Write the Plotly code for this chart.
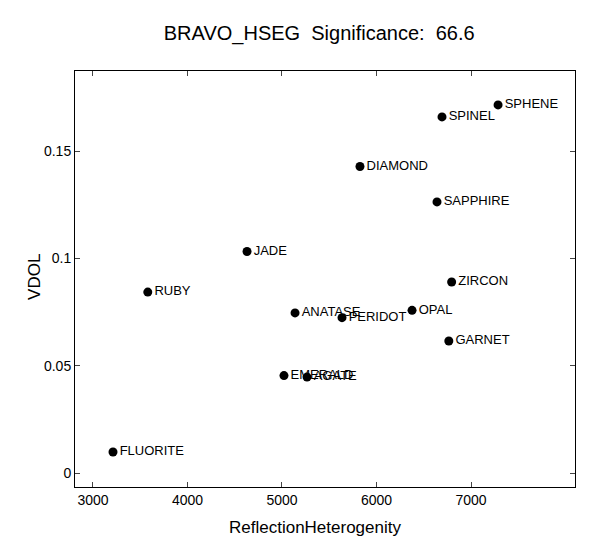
import plotly.graph_objects as go

names = ["SPHENE", "SPINEL", "DIAMOND", "SAPPHIRE", "JADE", "ZIRCON", "RUBY",
         "ANATASE", "PERIDOT", "OPAL", "GARNET", "EMERALD", "AGATE", "FLUORITE"]
refl_het = [7286, 6693, 5825, 6640, 4630, 6795, 3580,
            5138, 5635, 6376, 6765, 5021, 5265, 3212]
vdol = [0.1715, 0.1659, 0.1428, 0.1263, 0.1032, 0.0890, 0.0843,
        0.0746, 0.0724, 0.0758, 0.0615, 0.0454, 0.0447, 0.0098]

x_ticks = [3000, 4000, 5000, 6000, 7000]
y_ticks = [0, 0.05, 0.1, 0.15]
y_ticklabels = ["0", "0.05", "0.1", "0.15"]

font = "Liberation Sans, Arial, sans-serif"

fig = go.Figure(go.Scatter(
    x=refl_het, y=vdol, mode="markers+text", text=names,
    textposition="middle right",
    textfont=dict(family=font, size=13, color="black"),
    marker=dict(color="black", size=9),
    cliponaxis=False,
))

fig.update_layout(
    width=602, height=555,
    paper_bgcolor="white", plot_bgcolor="white",
    margin=dict(l=67, r=35, t=63, b=76),
    showlegend=False,
    title=dict(text="BRAVO_HSEG  Significance:  66.6", x=0.517, xanchor="center",
               y=1 - 25 / 555, yanchor="middle",
               font=dict(family=font, size=20, color="black")),
    font=dict(family=font, color="black"),
    annotations=[
        dict(text="ReflectionHeterogenity", xref="paper", yref="paper",
             x=0.48, y=0, yshift=-40, xanchor="center", yanchor="middle",
             showarrow=False, font=dict(family=font, size=17, color="black")),
        dict(text="VDOL", xref="paper", yref="paper", textangle=-90,
             x=0, xshift=-40, y=0.505, xanchor="center", yanchor="middle",
             showarrow=False, font=dict(family=font, size=17, color="black")),
    ],
)
fig.update_xaxes(
    range=[2810, 8100], tickvals=x_ticks, ticks="inside", ticklen=5,
    showline=True, linecolor="black", linewidth=1, mirror="ticks",
    showgrid=False, zeroline=False,
    tickfont=dict(family=font, size=14, color="black"),
)
fig.update_yaxes(
    range=[-0.0065, 0.1873], tickvals=y_ticks, ticktext=y_ticklabels,
    ticks="inside", ticklen=5,
    showline=True, linecolor="black", linewidth=1, mirror="ticks",
    showgrid=False, zeroline=False,
    tickfont=dict(family=font, size=14, color="black"),
)

fig.write_html("out.html")
